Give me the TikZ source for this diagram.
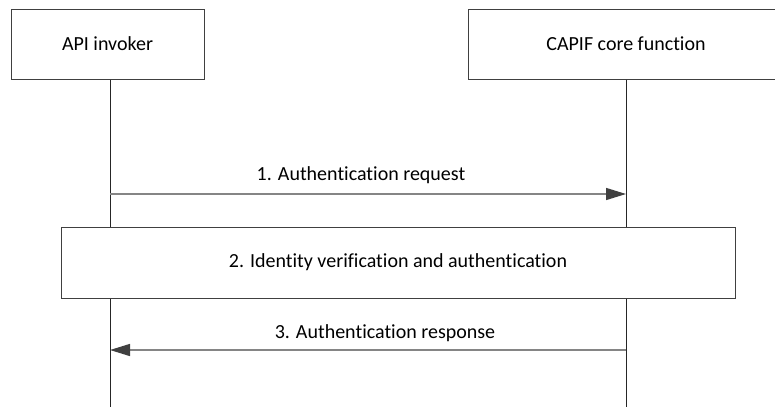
\documentclass[tikz,border=0pt]{standalone}
\usepackage{fontspec}
\setmainfont[Ligatures=NoCommon]{Carlito}
\usetikzlibrary{arrows.meta}
\definecolor{boxc}{HTML}{404040}
\definecolor{msgc}{HTML}{858585}
\begin{document}
\begin{tikzpicture}[x=1pt,y=1pt,
  txt/.style={font=\fontsize{20}{24}\selectfont},
  headbox/.style={draw=boxc, line width=1pt, fill=white, inner sep=0pt, minimum height=70pt, txt},
  lifeline/.style={draw=black!85, line width=1pt},
  msg/.style={draw=msgc, line width=1.4pt, -{Triangle[length=20pt,width=12pt,fill=boxc,color=boxc]}},
  lbl/.style={txt, inner sep=0pt}]
\useasboundingbox (0,0) rectangle (775,-407);
\clip (0,0) rectangle (775,-407);
\node[headbox, minimum width=193pt] (inv) at (107.5,-44) {API invoker};
\node[headbox, minimum width=316pt] (cap) at (626,-44) {CAPIF core function};
\node[headbox, minimum width=674pt, minimum height=71pt] (auth) at (398,-262.5) {2. Identity verification and authentication};
\coordinate (invx) at (110,-407);
\coordinate (capx) at (626,-407);
\draw[lifeline] (invx |- inv.south) -- (invx |- auth.north);
\draw[lifeline] (invx |- auth.south) -- (invx);
\draw[lifeline] (capx |- cap.south) -- (capx |- auth.north);
\draw[lifeline] (capx |- auth.south) -- (capx);
\coordinate (m1a) at (110,-194);
\coordinate (m1b) at (626,-194);
\coordinate (m3a) at (626,-350);
\coordinate (m3b) at (110,-350);
\draw[msg] (m1a) -- (m1b);
\draw[msg] (m3a) -- (m3b);
\node[lbl] (l1) at (361,-175) {1. Authentication request};
\node[lbl] (l3) at (385,-333) {3. Authentication response};
\end{tikzpicture}
\end{document}
